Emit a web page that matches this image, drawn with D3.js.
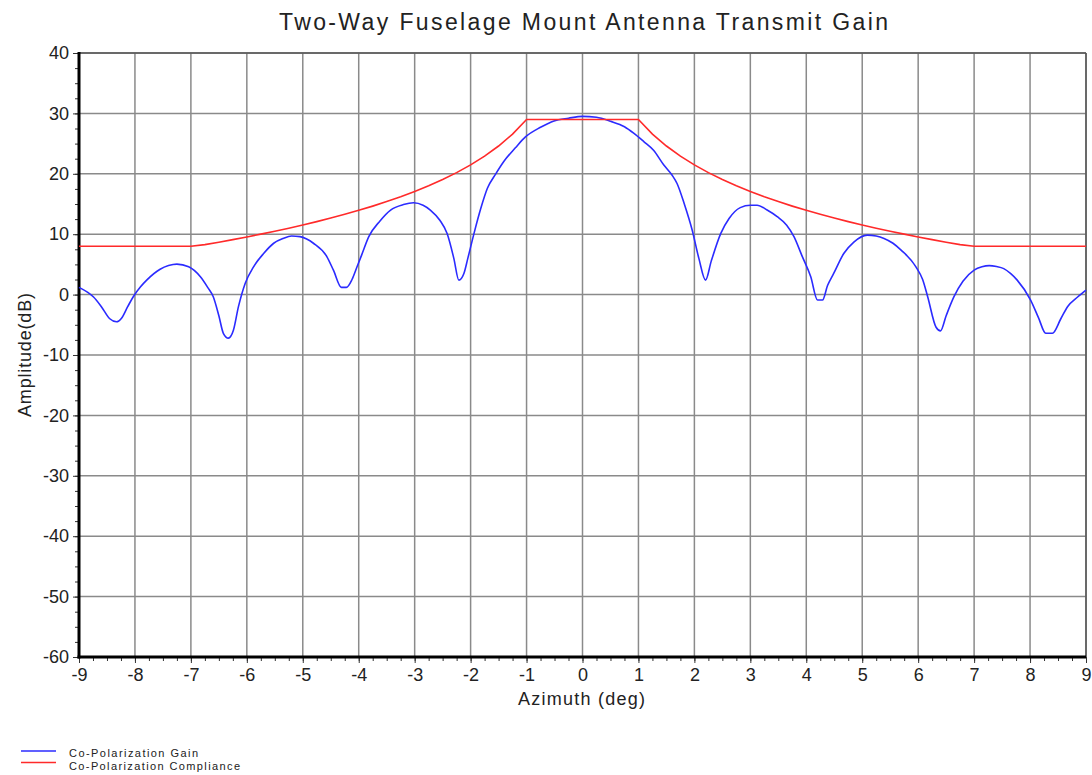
<!DOCTYPE html>
<html>
<head>
<meta charset="utf-8">
<script src="https://cdn.jsdelivr.net/npm/d3@7"></script>
<style>
html,body{margin:0;padding:0;background:#fff;}
svg text{font-family:"Liberation Sans",Arial,sans-serif;fill:#222;}
</style>
</head>
<body>
<svg id="chart" width="1092" height="775"></svg>
<script>
const chartTitle = "Two-Way Fuselage Mount Antenna Transmit Gain";
const xLabel = "Azimuth (deg)";
const yLabel = "Amplitude(dB)";
const xTicks = [-9,-8,-7,-6,-5,-4,-3,-2,-1,0,1,2,3,4,5,6,7,8,9];
const yTicks = [40,30,20,10,0,-10,-20,-30,-40,-50,-60];
const seriesNames = ["Co-Polarization Gain","Co-Polarization Compliance"];

const gainAz = [-9.0,-8.85,-8.74,-8.6,-8.45,-8.33,-8.24,-8.13,-8.03,-7.9,-7.79,-7.55,-7.4,-7.25,-7.04,-6.83,-6.7,-6.6,-6.5,-6.42,-6.33,-6.24,-6.15,-6.03,-5.88,-5.7,-5.52,-5.35,-5.2,-5.05,-4.93,-4.81,-4.57,-4.45,-4.31,-4.22,-4.12,-4.03,-3.95,-3.82,-3.62,-3.43,-3.2,-3.02,-2.85,-2.72,-2.55,-2.42,-2.3,-2.21,-2.12,-2.05,-1.94,-1.82,-1.7,-1.55,-1.41,-1.2,-1.02,-0.75,-0.51,-0.25,0.0,0.25,0.5,0.75,0.92,1.1,1.27,1.45,1.6,1.69,1.82,1.96,2.08,2.2,2.3,2.47,2.62,2.82,3.0,3.12,3.3,3.48,3.65,3.78,3.92,4.08,4.2,4.29,4.38,4.49,4.67,4.85,5.09,5.25,5.39,5.55,5.69,5.96,6.08,6.17,6.32,6.4,6.5,6.64,6.8,7.0,7.14,7.27,7.4,7.53,7.65,7.77,8.01,8.15,8.28,8.4,8.55,8.67,8.85,9.0];
const gainDb = [1.2,0.4,-0.4,-2.0,-4.0,-4.5,-3.9,-2.0,-0.35,1.3,2.4,4.2,4.8,5.05,4.6,2.95,1.2,-0.35,-3.5,-6.4,-7.2,-5.9,-2.0,1.85,4.6,6.8,8.5,9.3,9.7,9.6,9.2,8.5,6.3,4.0,1.2,1.2,2.5,4.6,6.5,9.6,12.2,14.0,14.9,15.2,14.8,14.0,12.3,10.1,6.0,2.4,3.5,6.0,10.1,14.2,17.6,20.0,22.0,24.3,26.1,27.7,28.75,29.2,29.5,29.35,28.7,27.8,26.7,25.3,23.9,21.5,19.8,18.4,15.0,10.7,6.0,2.4,5.5,10.1,12.6,14.4,14.8,14.8,14.0,12.9,11.5,9.6,6.5,2.95,-0.9,-0.9,1.5,3.5,6.8,8.7,9.85,9.7,9.3,8.5,7.4,4.6,2.5,-0.35,-5.4,-6.0,-3.5,-0.35,2.2,4.05,4.6,4.8,4.65,4.3,3.5,2.4,-0.9,-3.8,-6.4,-6.4,-4.0,-2.0,-0.4,0.75];

const compAz = [-9,-7,-6.75,-6.5,-6.25,-6,-5.75,-5.5,-5.25,-5,-4.75,-4.5,-4.25,-4,-3.75,-3.5,-3.25,-3,-2.75,-2.5,-2.25,-2,-1.75,-1.5,-1.25,-1,1,1.25,1.5,1.75,2,2.25,2.5,2.75,3,3.25,3.5,3.75,4,4.25,4.5,4.75,5,5.25,5.5,5.75,6,6.25,6.5,6.75,7,9];
const compDb = [8,8,8.27,8.68,9.1,9.55,10.01,10.49,11.0,11.53,12.08,12.67,13.29,13.95,14.65,15.4,16.2,17.07,18.02,19.05,20.19,21.47,22.92,24.6,26.58,29,29,26.58,24.6,22.92,21.47,20.19,19.05,18.02,17.07,16.2,15.4,14.65,13.95,13.29,12.67,12.08,11.53,11.0,10.49,10.01,9.55,9.1,8.68,8.27,8,8];

const svg = d3.select("#chart");
const L = 79, R = 1086, T = 53, B = 657;
const x = d3.scaleLinear().domain([-9,9]).range([L,R]);
const y = d3.scaleLinear().domain([-60,40]).range([B,T]);
const fmt = d => String(d); // plain hyphen-minus like the reference

// grid
const g = svg.append("g");
g.selectAll(".vg").data(xTicks).join("line")
  .attr("x1",d=>x(d)).attr("x2",d=>x(d)).attr("y1",T).attr("y2",B)
  .attr("stroke","#8a8a8a").attr("stroke-width",1.5);
g.selectAll(".hg").data(yTicks).join("line")
  .attr("x1",L).attr("x2",R).attr("y1",d=>y(d)).attr("y2",d=>y(d))
  .attr("stroke","#8a8a8a").attr("stroke-width",1.5);
g.append("line").attr("x1",L).attr("x2",R).attr("y1",T).attr("y2",T).attr("stroke","#555").attr("stroke-width",1.5);
g.append("line").attr("x1",R).attr("x2",R).attr("y1",T).attr("y2",B).attr("stroke","#555").attr("stroke-width",1.5);

// axes
const xAxis = d3.axisBottom(x).tickValues(xTicks).tickFormat(fmt).tickSize(6).tickPadding(5);
const xMinor = d3.axisBottom(x).tickValues(d3.range(-9,9.001,0.25)).tickFormat("").tickSize(4);
const yAxis = d3.axisLeft(y).tickValues(yTicks).tickFormat(fmt).tickSize(6).tickPadding(4);
const yMinor = d3.axisLeft(y).tickValues(d3.range(-60,40.001,2.5)).tickFormat("").tickSize(4);

function styleAxis(sel){
  sel.select(".domain").remove();
  sel.selectAll(".tick line").attr("stroke","#333").attr("stroke-width",1);
  sel.selectAll(".tick text").attr("font-size",18).attr("fill","#222").style("font-family","Liberation Sans, Arial, sans-serif");
}
svg.append("g").attr("transform",`translate(0,${B})`).call(xMinor).call(styleAxis);
svg.append("g").attr("transform",`translate(0,${B})`).call(xAxis).call(styleAxis);
svg.append("g").attr("transform",`translate(${L},0)`).call(yMinor).call(styleAxis);
svg.append("g").attr("transform",`translate(${L},0)`).call(yAxis).call(styleAxis);

svg.append("line").attr("x1",L).attr("x2",L).attr("y1",T-1).attr("y2",B+1.5).attr("stroke","#000").attr("stroke-width",3);
svg.append("line").attr("x1",L-1.5).attr("x2",R).attr("y1",B).attr("y2",B).attr("stroke","#000").attr("stroke-width",3);

// lines
const comp = compAz.map((a,i)=>[a,compDb[i]]);
const gain = gainAz.map((a,i)=>[a,gainDb[i]]);
const lineLin = d3.line().x(d=>x(d[0])).y(d=>y(d[1]));
const lineSm = d3.line().x(d=>x(d[0])).y(d=>y(d[1])).curve(d3.curveMonotoneX);
svg.append("path").datum(gain).attr("d",lineSm).attr("fill","none").attr("stroke","#2b2bff").attr("stroke-width",1.6);
svg.append("path").datum(comp).attr("d",lineLin).attr("fill","none").attr("stroke","#ff2a2a").attr("stroke-width",1.6);

// titles
svg.append("text").attr("x",279).attr("y",30).attr("font-size",23)
  .attr("textLength",609).attr("lengthAdjust","spacing").text(chartTitle);
svg.append("text").attr("x",518).attr("y",705).attr("font-size",18)
  .attr("textLength",127).attr("lengthAdjust","spacing").text(xLabel);
svg.append("text").attr("transform","translate(31,417) rotate(-90)").attr("font-size",18)
  .attr("textLength",124).attr("lengthAdjust","spacing").text(yLabel);

// legend
const legColors = ["#2b2bff","#ff2a2a"];
const legWidths = [129,171];
seriesNames.forEach((n,i)=>{
  const ly = 751 + i*11.5;
  svg.append("line").attr("x1",21).attr("x2",56).attr("y1",ly).attr("y2",ly).attr("stroke",legColors[i]).attr("stroke-width",1.3);
  svg.append("text").attr("x",69).attr("y",756.5 + i*13).attr("font-size",11)
    .attr("textLength",legWidths[i]).attr("lengthAdjust","spacing").text(n);
});
</script>
</body>
</html>
